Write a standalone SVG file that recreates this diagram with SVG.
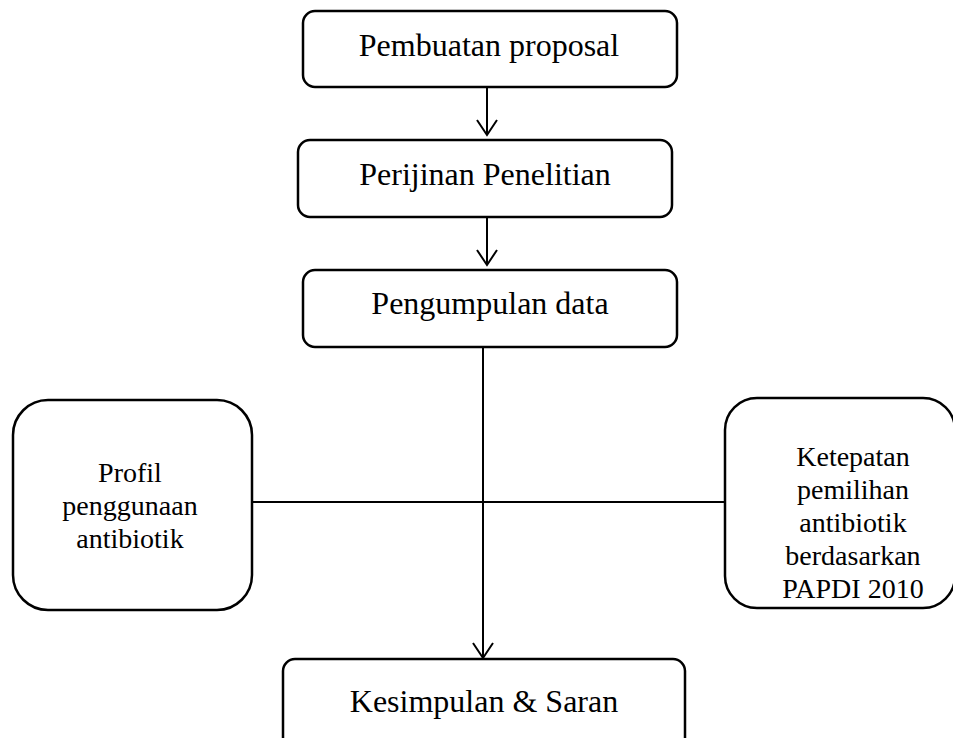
<svg xmlns="http://www.w3.org/2000/svg" width="953" height="738" viewBox="0 0 953 738">
<style>
.box{fill:#fff;stroke:#000;stroke-width:2.5}
.ln{fill:none;stroke:#000;stroke-width:2}
text{font-family:"Liberation Serif","Times New Roman",serif;fill:#000;text-anchor:middle}
.big{font-size:32px}
.sm{font-size:28px}
</style>
<rect width="953" height="738" fill="#fff"/>
<g id="connectors">
<path class="ln" d="M487,87 V135 M477,120 L487,135 L497,120"/>
<path class="ln" d="M487,217 V265 M477,250 L487,265 L497,250"/>
<path class="ln" d="M483,347 V658 M473,643 L483,658 L493,643"/>
<path class="ln" d="M252,502 H725"/>
</g>
<g id="n1"><rect class="box" x="303" y="11" width="374" height="76" rx="12"/><text class="big" x="489" y="56">Pembuatan proposal</text></g>
<g id="n2"><rect class="box" x="298" y="140" width="374" height="77" rx="12"/><text class="big" x="485" y="185">Perijinan Penelitian</text></g>
<g id="n3"><rect class="box" x="303" y="270" width="374" height="77" rx="12"/><text class="big" x="490" y="314">Pengumpulan data</text></g>
<g id="n4"><rect class="box" x="13" y="400" width="239" height="210" rx="35"/><text class="sm" x="130" y="482">Profil</text><text class="sm" x="130" y="515">penggunaan</text><text class="sm" x="130" y="548">antibiotik</text></g>
<g id="n5"><rect class="box" x="725" y="398" width="230" height="210" rx="32"/><text class="sm" x="853" y="466">Ketepatan</text><text class="sm" x="853" y="499">pemilihan</text><text class="sm" x="853" y="532">antibiotik</text><text class="sm" x="853" y="565">berdasarkan</text><text class="sm" x="853" y="598">PAPDI 2010</text></g>
<g id="n6"><rect class="box" x="283" y="659" width="402" height="100" rx="12"/><text class="big" x="484" y="712">Kesimpulan &amp; Saran</text></g>
</svg>
